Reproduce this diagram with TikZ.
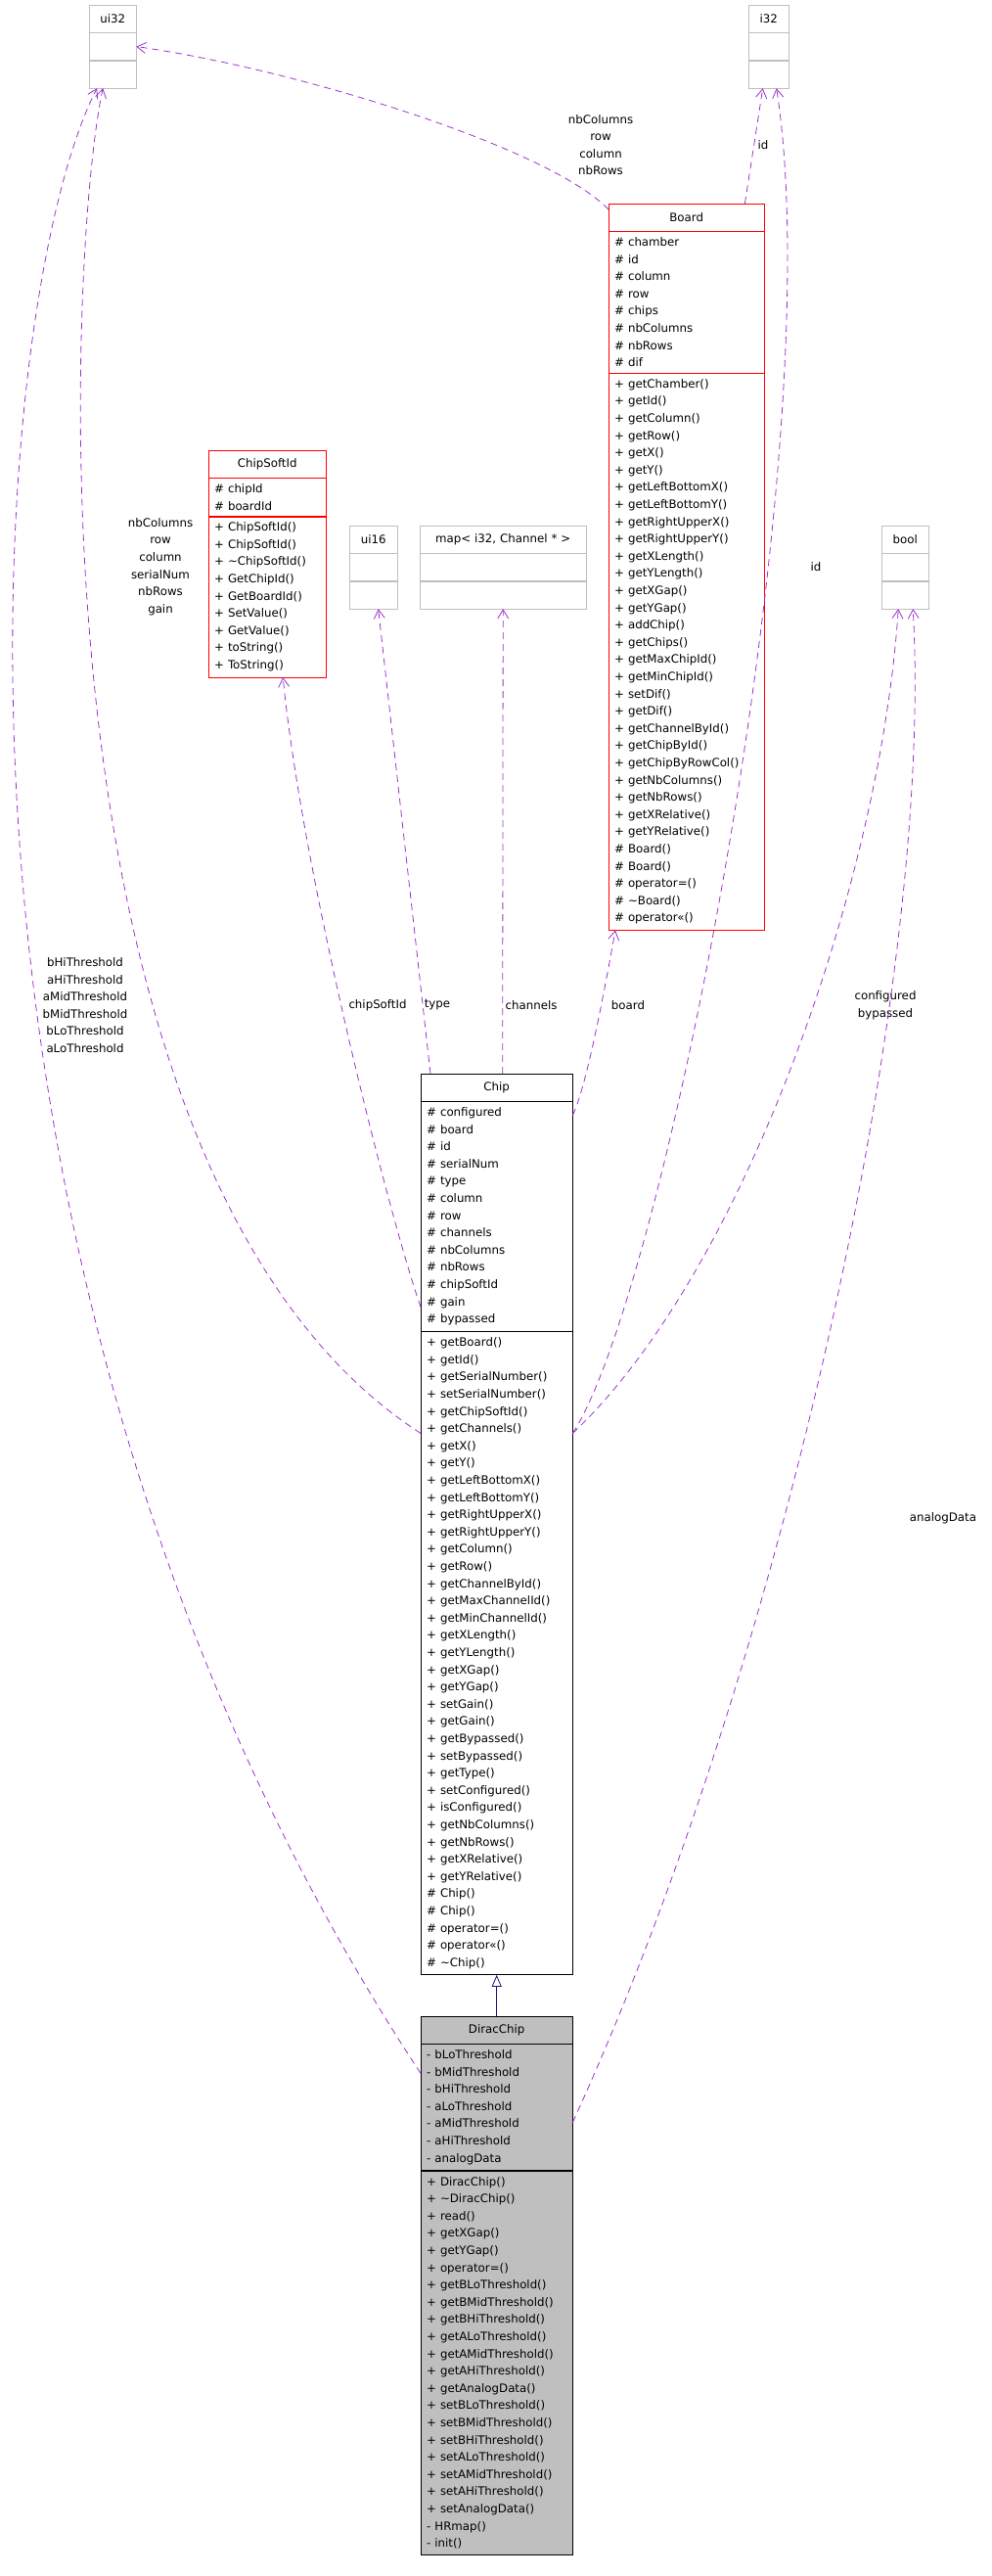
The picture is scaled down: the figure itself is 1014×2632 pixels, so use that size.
\documentclass[tikz,border=0pt]{standalone}
\usepackage{fontspec}
\setmainfont{DejaVu Sans}
\usetikzlibrary{positioning,arrows.meta}
\definecolor{edgepurple}{HTML}{9A32CD}
\definecolor{boxgray}{HTML}{BFBFBF}
\definecolor{inhblue}{HTML}{191970}
\newcommand{\umlfont}{\fontsize{11.8}{17.6}\selectfont}

\tikzset{
  part/.style={draw, rectangle, inner xsep=6pt, inner ysep=6pt, font=\umlfont, align=left, anchor=north west},
  head/.style={part, align=center, minimum height=28pt, inner ysep=0pt},
  empty/.style={part, minimum height=28pt, inner ysep=0pt},
  use/.style={draw=edgepurple, dash pattern=on 7pt off 5pt, line width=0.8pt, -{Straight Barb[length=9pt,width=11pt]}},
  lbl/.style={font=\umlfont, align=center, inner sep=0pt}
}

\begin{document}
\begin{tikzpicture}[x=1pt,y=-1pt]
\useasboundingbox (0,0) rectangle (1014,2632);

% plain types
\node (ui32) at (91,5) [head, draw=boxgray, text width=36pt] {ui32};
\node (ui32-a) [empty, draw=boxgray, text width=36pt, below=0pt of ui32.south west, anchor=north west] {};
\node (ui32-m) [empty, draw=boxgray, text width=36pt, below=0pt of ui32-a.south west, anchor=north west] {};

\node (i32) at (765,5) [head, draw=boxgray, text width=29pt] {i32};
\node (i32-a) [empty, draw=boxgray, text width=29pt, below=0pt of i32.south west, anchor=north west] {};
\node (i32-m) [empty, draw=boxgray, text width=29pt, below=0pt of i32-a.south west, anchor=north west] {};

\node (ui16) at (357,537) [head, draw=boxgray, text width=37pt] {ui16};
\node (ui16-a) [empty, draw=boxgray, text width=37pt, below=0pt of ui16.south west, anchor=north west] {};
\node (ui16-m) [empty, draw=boxgray, text width=37pt, below=0pt of ui16-a.south west, anchor=north west] {};

\node (map) at (429,537) [head, draw=boxgray, text width=158pt] {map\textless{} i32, Channel * \textgreater};
\node (map-a) [empty, draw=boxgray, text width=158pt, below=0pt of map.south west, anchor=north west] {};
\node (map-m) [empty, draw=boxgray, text width=158pt, below=0pt of map-a.south west, anchor=north west] {};

\node (bool) at (901,537) [head, draw=boxgray, text width=36pt] {bool};
\node (bool-a) [empty, draw=boxgray, text width=36pt, below=0pt of bool.south west, anchor=north west] {};
\node (bool-m) [empty, draw=boxgray, text width=36pt, below=0pt of bool-a.south west, anchor=north west] {};

% classes
\node (csid) at (213,460) [head, draw=red, text width=108pt] {ChipSoftId};
\node (csid-a) [part, draw=red, text width=108pt, below=0pt of csid.south west, anchor=north west] {\# chipId\\\# boardId};
\node (csid-m) [part, draw=red, text width=108pt, below=0pt of csid-a.south west, anchor=north west]
  {+ ChipSoftId()\\+ ChipSoftId()\\+ \textasciitilde ChipSoftId()\\+ GetChipId()\\+ GetBoardId()\\+ SetValue()\\+ GetValue()\\+ toString()\\+ ToString()};

\node (board) at (622,208) [head, draw=red, text width=147pt] {Board};
\node (board-a) [part, draw=red, text width=147pt, below=0pt of board.south west, anchor=north west]
  {\# chamber\\\# id\\\# column\\\# row\\\# chips\\\# nbColumns\\\# nbRows\\\# dif};
\node (board-m) [part, draw=red, text width=147pt, below=0pt of board-a.south west, anchor=north west]
  {+ getChamber()\\+ getId()\\+ getColumn()\\+ getRow()\\+ getX()\\+ getY()\\+ getLeftBottomX()\\+ getLeftBottomY()\\+ getRightUpperX()\\+ getRightUpperY()\\+ getXLength()\\+ getYLength()\\+ getXGap()\\+ getYGap()\\+ addChip()\\+ getChips()\\+ getMaxChipId()\\+ getMinChipId()\\+ setDif()\\+ getDif()\\+ getChannelById()\\+ getChipById()\\+ getChipByRowCol()\\+ getNbColumns()\\+ getNbRows()\\+ getXRelative()\\+ getYRelative()\\\# Board()\\\# Board()\\\# operator=()\\\# \textasciitilde Board()\\\# operator\textless\textless()};

\node (chip) at (430,1097) [head, text width=143pt] {Chip};
\node (chip-a) [part, text width=143pt, below=0pt of chip.south west, anchor=north west]
  {\# configured\\\# board\\\# id\\\# serialNum\\\# type\\\# column\\\# row\\\# channels\\\# nbColumns\\\# nbRows\\\# chipSoftId\\\# gain\\\# bypassed};
\node (chip-m) [part, text width=143pt, below=0pt of chip-a.south west, anchor=north west]
  {+ getBoard()\\+ getId()\\+ getSerialNumber()\\+ setSerialNumber()\\+ getChipSoftId()\\+ getChannels()\\+ getX()\\+ getY()\\+ getLeftBottomX()\\+ getLeftBottomY()\\+ getRightUpperX()\\+ getRightUpperY()\\+ getColumn()\\+ getRow()\\+ getChannelById()\\+ getMaxChannelId()\\+ getMinChannelId()\\+ getXLength()\\+ getYLength()\\+ getXGap()\\+ getYGap()\\+ setGain()\\+ getGain()\\+ getBypassed()\\+ setBypassed()\\+ getType()\\+ setConfigured()\\+ isConfigured()\\+ getNbColumns()\\+ getNbRows()\\+ getXRelative()\\+ getYRelative()\\\# Chip()\\\# Chip()\\\# operator=()\\\# operator\textless\textless()\\\# \textasciitilde Chip()};

\node (dirac) at (430,2060) [head, fill=boxgray, text width=143pt] {DiracChip};
\node (dirac-a) [part, fill=boxgray, text width=143pt, below=0pt of dirac.south west, anchor=north west]
  {- bLoThreshold\\- bMidThreshold\\- bHiThreshold\\- aLoThreshold\\- aMidThreshold\\- aHiThreshold\\- analogData};
\node (dirac-m) [part, fill=boxgray, text width=143pt, below=0pt of dirac-a.south west, anchor=north west]
  {+ DiracChip()\\+ \textasciitilde DiracChip()\\+ read()\\+ getXGap()\\+ getYGap()\\+ operator=()\\+ getBLoThreshold()\\+ getBMidThreshold()\\+ getBHiThreshold()\\+ getALoThreshold()\\+ getAMidThreshold()\\+ getAHiThreshold()\\+ getAnalogData()\\+ setBLoThreshold()\\+ setBMidThreshold()\\+ setBHiThreshold()\\+ setALoThreshold()\\+ setAMidThreshold()\\+ setAHiThreshold()\\+ setAnalogData()\\- HRmap()\\- init()};

% labels
\node (l-bu) at (614,148) [lbl] {nbColumns\\row\\column\\nbRows};
\node (l-bi) at (780,148) [lbl] {id};
\node (l-ci) at (834,579) [lbl] {id};
\node (l-cu) at (164,579) [lbl] {nbColumns\\row\\column\\serialNum\\nbRows\\gain};
\node (l-du) at (87,1027) [lbl] {bHiThreshold\\aHiThreshold\\aMidThreshold\\bMidThreshold\\bLoThreshold\\aLoThreshold};
\node (l-cs) at (386,1027) [lbl] {chipSoftId};
\node (l-ty) at (447,1027) [lbl] {type};
\node (l-ch) at (543,1027) [lbl] {channels};
\node (l-bo) at (642,1027) [lbl] {board};
\node (l-cb) at (905,1027) [lbl] {configured\\bypassed};
\node (l-ad) at (964,1551) [lbl] {analogData};

% usage
\draw[use] ([yshift=-6pt]board.north west) .. controls (560,150) and (300,70) .. (ui32-a.east);
\draw[use] ([xshift=-20pt]board.north east) -- ([xshift=-6pt]i32-m.south);
\draw[use] ([yshift=-104pt]chip-m.north east) .. controls (680,1320) and (850,450) .. ([xshift=8pt]i32-m.south);
\draw[use] ([yshift=-104pt]chip-m.north west) .. controls (20,1200) and (70,250) .. ([xshift=-10pt]ui32-m.south);
\draw[use] ([yshift=-30pt]dirac-a.north west) .. controls (-110,1300) and (-10,300) .. ([xshift=-16pt]ui32-m.south);
\draw[use] ([yshift=25pt]chip-m.north west) .. controls (400,1250) and (310,900) .. ([xshift=16pt]csid-m.south);
\draw[use] ([xshift=10pt]chip.north west) -- ([xshift=5pt]ui16-m.south);
\draw[use] ([xshift=6pt]chip.north) -- (map-m.south);
\draw[use] ([yshift=-14pt]chip-a.north east) .. controls (600,1110) and (620,1000) .. ([xshift=7pt]board-m.south west);
\draw[use] ([yshift=-104pt]chip-m.north east) .. controls (760,1300) and (900,900) .. ([xshift=-7pt]bool-m.south);
\draw[use] ([yshift=-80pt]dirac-a.north east) .. controls (800,1700) and (955,1000) .. ([xshift=8pt]bool-m.south);

% inheritance
\draw[draw=inhblue, line width=0.8pt, -{Triangle[open,length=12pt,width=10pt]}] (dirac.north) -- (chip-m.south);
\end{tikzpicture}
\end{document}
